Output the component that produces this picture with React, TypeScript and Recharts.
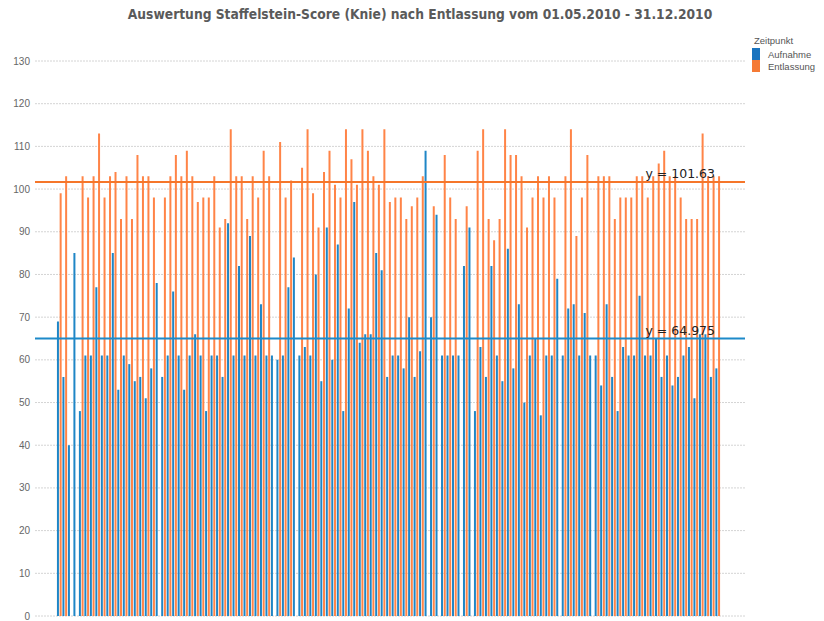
import { BarChart, Bar, XAxis, YAxis, CartesianGrid, ReferenceLine } from "recharts";

const aufnahme = [
	69, 56, 40, 85, 48, 61, 61, 77, 61, 61, 85, 53, 61, 59, 55, 56, 51, 58, 78, 56,
	61, 76, 61, 53, 61, 66, 61, 48, 61, 61, 56, 92, 61, 82, 61, 89, 61, 73, 61, 61,
	60, 61, 77, 84, 61, 63, 61, 80, 55, 91, 60, 87, 48, 72, 97, 64, 66, 66, 85, 81,
	56, 61, 61, 58, 70, 56, 62, 109, 70, 94, 61, 61, 61, 61, 82, 91, 48, 63, 56, 82,
	61, 55, 86, 58, 73, 50, 61, 65, 47, 61, 61, 79, 61, 72, 73, 61, 71, 61, 61, 54,
	73, 56, 48, 63, 61, 61, 75, 61, 61, 65, 56, 61, 54, 56, 61, 63, 51, 66, 66, 56, 58,
];

const entlassung = [
	99, 103, null, null, 103, 98, 103, 113, 98, 103, 104, 93, 103, 93, 108, 103, 103, 98, null, 98,
	103, 108, 103, 109, 103, 97, 98, 98, 103, 91, 93, 114, 103, 103, 93, 103, 98, 109, 103, null,
	111, 98, 102, null, 105, 114, 99, 91, 104, 109, 101, 98, 114, 107, 101, 114, 109, 103, 101, 114,
	97, 98, 98, 93, 96, 98, 103, null, 96, null, 108, 98, 93, null, 96, null, 109, 114, 93, 88,
	93, 114, 108, 108, 103, 91, 98, 103, 98, 103, 98, null, 103, 114, 89, 98, 108, null, 103, 103,
	103, 93, 98, 98, 98, 103, 103, 98, 103, 106, 109, 103, 103, 98, 93, 93, 93, 113, 103, 103, 103,
];

const yTicks = [0, 10, 20, 30, 40, 50, 60, 70, 80, 90, 100, 110, 120, 130];

const meanAufnahme = 64.975;
const meanEntlassung = 101.63;

const data = aufnahme.map((a, i) => ({
	patient: i + 1,
	Aufnahme: a,
	Entlassung: entlassung[i],
}));

const BLUE = "#1f86c6";
const ORANGE = "#ff8447";

const meanLabel = (text: string) => (props: any) => {
	const vb = props.viewBox;
	return (
		<text
			x={vb.x + vb.width - 30}
			y={vb.y - 4}
			textAnchor="end"
			fontSize={12.5}
			fontFamily="DejaVu Sans"
			fill="#222"
		>
			{text}
		</text>
	);
};

export default function App() {
	return (
		<div style={{ position: "absolute", left: 0, top: 0, width: 824, height: 621, background: "#fff" }}>
			<div
				style={{
					position: "absolute",
					top: 6,
					left: 420,
					transform: "translateX(-50%)",
					whiteSpace: "nowrap",
					fontFamily: "DejaVu Sans Condensed, DejaVu Sans",
					fontWeight: "bold",
					fontSize: 13.7,
					color: "#5a5a5a",
				}}
			>
				Auswertung Staffelstein-Score (Knie) nach Entlassung vom 01.05.2010 - 31.12.2010
			</div>

			<div style={{ position: "absolute", left: 752, top: 34, fontFamily: "Liberation Sans", fontSize: 9.5, color: "#555" }}>
				<div style={{ marginLeft: 2, lineHeight: "14px" }}>Zeitpunkt</div>
				<div style={{ display: "flex", alignItems: "center", height: 12 }}>
					<span style={{ width: 8, height: 12, background: "#1a74bf", display: "inline-block" }} />
					<span style={{ marginLeft: 8 }}>Aufnahme</span>
				</div>
				<div style={{ display: "flex", alignItems: "center", height: 12 }}>
					<span style={{ width: 8, height: 12, background: "#f57a35", display: "inline-block" }} />
					<span style={{ marginLeft: 8 }}>Entlassung</span>
				</div>
			</div>

			<BarChart
				width={824}
				height={621}
				data={data}
				margin={{ top: 61, right: 79, bottom: 5, left: 0 }}
				barSize={2}
				barGap={0.7}
				style={{ position: "absolute", left: 0, top: 0 }}
			>
				<CartesianGrid vertical={false} stroke="#d4d4d4" strokeDasharray="2 1" />
				<XAxis dataKey="patient" type="number" domain={[-3.5, 125.9]} allowDataOverflow hide />
				<YAxis
					width={35}
					domain={[0, 130]}
					ticks={yTicks}
					interval={0}
					axisLine={false}
					tickLine={false}
					tickSize={5}
					tickMargin={0}
					tick={{ fontSize: 10, fill: "#666", fontFamily: "Liberation Sans" }}
				/>
				<Bar dataKey="Aufnahme" fill={BLUE} isAnimationActive={false} />
				<Bar dataKey="Entlassung" fill={ORANGE} isAnimationActive={false} />
				<ReferenceLine y={meanEntlassung} stroke="#f5762a" strokeWidth={2} label={meanLabel("y = 101.63")} />
				<ReferenceLine y={meanAufnahme} stroke="#1d8ac9" strokeWidth={2} label={meanLabel("y = 64.975")} />
			</BarChart>
		</div>
	);
}
